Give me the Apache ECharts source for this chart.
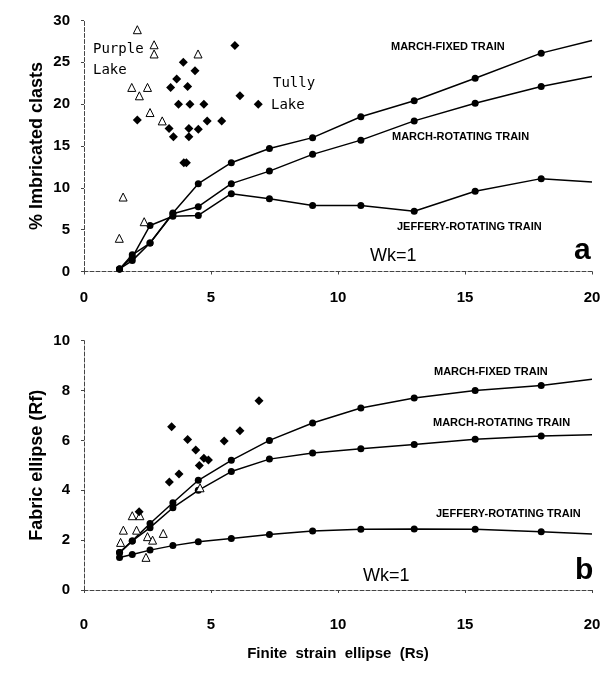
<!DOCTYPE html>
<html>
<head>
    <meta charset="UTF-8">
    <title>Imbricated clasts and fabric ellipse vs finite strain</title>
    <script src="https://cdn.jsdelivr.net/npm/echarts@6/dist/echarts.min.js"></script>
</head>
<body style="margin: 0;overflow: hidden;background: #fff">
<div id="chart" style="width: 614px;height: 675px"></div>
<script type="text/javascript">
    // strain values (Rs) used by the three model curves
    var strainRs = [1.4, 1.9, 2.6, 3.5, 4.5, 5.8, 7.3, 9, 10.9, 13, 15.4, 18, 20];

    // panel a : % imbricated clasts
    var fixedA = [0.3, 2.0, 3.4, 7.0, 10.5, 13.0, 14.7, 16.0, 18.5, 20.4, 23.1, 26.1, 27.6];
    var rotA = [0.3, 1.3, 3.4, 6.9, 7.75, 10.5, 12.0, 14.0, 15.7, 18.0, 20.1, 22.1, 23.3];
    var jefA = [0.3, 1.7, 5.5, 6.6, 6.7, 9.3, 8.7, 7.9, 7.9, 7.2, 9.6, 11.1, 10.7];

    var purpleAx = [2.1, 2.76, 2.76, 4.49, 1.88, 2.5, 2.18, 2.6, 3.08, 1.54, 2.37, 1.39];
    var purpleAy = [28.9, 27.1, 26.0, 26.0, 22.0, 22.0, 21.0, 19.0, 18.0, 8.9, 5.95, 3.97];
    var tullyAx = [2.1, 3.41, 3.65, 3.91, 4.37, 4.08, 3.72, 4.17, 4.72, 3.35, 3.52, 4.13, 4.13, 4.5, 4.85, 5.42, 3.93, 4.03, 5.94, 6.14, 6.86];
    var tullyAy = [18.1, 22.0, 23.0, 25.0, 24.0, 22.1, 20.0, 20.0, 20.0, 17.1, 16.1, 17.1, 16.1, 17.0, 18.0, 18.0, 13.0, 13.0, 27.0, 21.0, 20.0];

    // panel b : fabric ellipse (Rf)
    var fixedB = [1.5, 1.97, 2.67, 3.5, 4.4, 5.2, 6.0, 6.7, 7.3, 7.7, 8.0, 8.2, 8.45];
    var rotB = [1.5, 1.97, 2.5, 3.3, 4.0, 4.75, 5.25, 5.5, 5.67, 5.84, 6.05, 6.18, 6.23];
    var jefB = [1.3, 1.42, 1.6, 1.78, 1.94, 2.07, 2.23, 2.37, 2.44, 2.45, 2.44, 2.34, 2.25];

    var purpleBx = [1.9, 2.2, 1.55, 2.07, 1.44, 2.5, 2.7, 3.12, 2.44, 4.57];
    var purpleBy = [2.98, 2.98, 2.4, 2.4, 1.91, 2.14, 2.0, 2.27, 1.31, 4.1];
    var tullyBx = [2.17, 3.36, 3.45, 3.74, 4.08, 4.4, 4.54, 4.72, 4.9, 5.52, 6.14, 6.89];
    var tullyBy = [3.14, 4.33, 6.55, 4.65, 6.04, 5.62, 4.99, 5.28, 5.21, 5.98, 6.39, 7.59];

    var font = '"Liberation Sans", Arial, sans-serif';

    function curve(ys) {
        return ys.map(function (y, i) {
            var item = {value: [strainRs[i], y]};
            if (i === ys.length - 1) item.symbolSize = 0;
            return item;
        });
    }
    function pairs(xs, ys) {
        return xs.map(function (x, i) { return [x, ys[i]]; });
    }
    function lineSeries(ys, idx) {
        return {
            type: 'line', xAxisIndex: idx, yAxisIndex: idx,
            data: curve(ys),
            symbol: 'circle', symbolSize: 7,
            lineStyle: {color: '#000', width: 1.5},
            itemStyle: {color: '#000', opacity: 1},
            z: 3
        };
    }
    function triSeries(xs, ys, idx) {
        return {
            type: 'scatter', xAxisIndex: idx, yAxisIndex: idx,
            data: pairs(xs, ys),
            symbol: 'triangle', symbolSize: 8,
            itemStyle: {color: '#fff', borderColor: '#000', borderWidth: 1, opacity: 1},
            z: 4
        };
    }
    function diaSeries(xs, ys, idx) {
        return {
            type: 'scatter', xAxisIndex: idx, yAxisIndex: idx,
            data: pairs(xs, ys),
            symbol: 'diamond', symbolSize: 9,
            itemStyle: {color: '#000', opacity: 1},
            z: 4
        };
    }
    function xAxis(idx, name, margin) {
        return {
            type: 'value', gridIndex: idx, min: 0, max: 20, interval: 5,
            name: name, nameLocation: 'middle', nameGap: 56,
            nameTextStyle: {fontFamily: font, fontWeight: 'bold', fontSize: 15, color: '#000'},
            axisLine: {lineStyle: {color: '#444', width: 1, type: 'dashed'}},
            axisTick: {show: true, length: 3, lineStyle: {color: '#444'}},
            axisLabel: {fontFamily: font, fontWeight: 'bold', fontSize: 15, color: '#000', margin: margin},
            splitLine: {show: false}
        };
    }
    function yAxis(idx, max, interval, name) {
        return {
            type: 'value', gridIndex: idx, min: 0, max: max, interval: interval,
            name: name, nameLocation: 'middle', nameGap: 38, nameMoveOverlap: false,
            nameTextStyle: {fontFamily: font, fontWeight: 'bold', fontSize: 18, color: '#000'},
            axisLine: {show: true, lineStyle: {color: '#444', width: 1, type: 'dashed'}},
            axisTick: {show: true, length: 3, lineStyle: {color: '#444'}},
            axisLabel: {fontFamily: font, fontWeight: 'bold', fontSize: 15, color: '#000', margin: 14},
            splitLine: {show: false}
        };
    }
    function label(text, x, y, f) {
        return {type: 'text', left: x, top: y, style: {text: text, font: f, fill: '#000'}};
    }

    var trainFont = 'bold 11px ' + font;
    var option = {
        backgroundColor: '#fff',
        animation: false,
        grid: [
            {left: 84, right: 22, top: 20.5, height: 251},
            {left: 84, right: 22, top: 340.7, height: 249.3}
        ],
        xAxis: [xAxis(0, '', 19), xAxis(1, 'Finite  strain  ellipse  (Rs)', 27)],
        yAxis: [yAxis(0, 30, 5, '% Imbricated clasts'), yAxis(1, 10, 2, 'Fabric ellipse (Rf)')],
        series: [
            lineSeries(fixedA, 0), lineSeries(rotA, 0), lineSeries(jefA, 0),
            triSeries(purpleAx, purpleAy, 0), diaSeries(tullyAx, tullyAy, 0),
            lineSeries(fixedB, 1), lineSeries(rotB, 1), lineSeries(jefB, 1),
            triSeries(purpleBx, purpleBy, 1), diaSeries(tullyBx, tullyBy, 1)
        ],
        graphic: [
            label('MARCH-FIXED TRAIN', 391, 41, trainFont),
            label('MARCH-ROTATING TRAIN', 392, 131, trainFont),
            label('JEFFERY-ROTATING TRAIN', 397, 221, trainFont),
            label('Wk=1', 370, 247, '18px ' + font),
            label('a', 574, 236, 'bold 30px ' + font),
            label('Purple', 93, 42, '14px "DejaVu Sans Mono", monospace'),
            label('Lake', 93, 63, '14px "DejaVu Sans Mono", monospace'),
            label('Tully', 273, 76, '14px "DejaVu Sans Mono", monospace'),
            label('Lake', 271, 98, '14px "DejaVu Sans Mono", monospace'),
            label('MARCH-FIXED TRAIN', 434, 366, trainFont),
            label('MARCH-ROTATING TRAIN', 433, 417, trainFont),
            label('JEFFERY-ROTATING TRAIN', 436, 508, trainFont),
            label('Wk=1', 363, 567, '18px ' + font),
            label('b', 575, 556, 'bold 30px ' + font)
        ]
    };
    var chart = echarts.init(document.getElementById('chart'));
    chart.setOption(option);
</script>
</body>
</html>
